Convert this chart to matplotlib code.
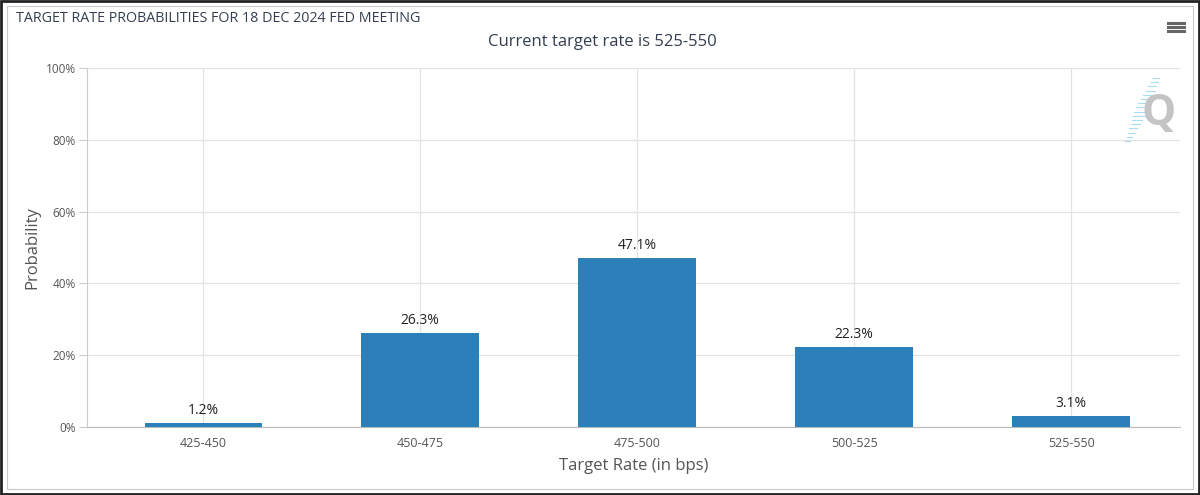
import matplotlib.pyplot as plt
from matplotlib.patches import Rectangle
from matplotlib.lines import Line2D

plt.rcParams['font.family'] = ['Open Sans', 'DejaVu Sans']

# data
rates = ['425-450', '450-475', '475-500', '500-525', '525-550']
probs = [1.2, 26.3, 47.1, 22.3, 3.1]
yticks = [0, 20, 40, 60, 80, 100]

bar_color = '#2b80b9'
text_color = '#333f50'

W, H = 1200, 495
fig = plt.figure(figsize=(12, 4.95), dpi=100)
ax = fig.add_axes([87 / W, 1 - 427 / H, 1093 / W, 359 / H])

x = list(range(len(rates)))
ax.bar(x, probs, width=0.54, color=bar_color, zorder=3)
for xi, p in zip(x, probs):
    ax.text(xi, p + 1.3, f'{p}%', ha='center', va='bottom', fontsize=10, color='#222222', zorder=4)

ax.set_xlim(-0.535, len(rates) - 0.498)
ax.set_ylim(0, 100)
ax.set_xticks(x)
ax.set_xticklabels(rates, fontsize=9, color='#555555')
ax.set_yticks(yticks)
ax.set_yticklabels([f'{t}%' for t in yticks], fontsize=8.5, color='#555555')
ax.tick_params(axis='x', length=0, pad=7)
ax.tick_params(axis='y', length=6, width=0.8, color='#cccccc', pad=2)

ax.grid(True, color='#e3e3e3', linewidth=0.9, zorder=0)
for side in ['top', 'right']:
    ax.spines[side].set_visible(False)
ax.spines['left'].set_color('#cccccc')
ax.spines['bottom'].set_color('#bbbbbb')

ax.set_xlabel('Target Rate (in bps)', fontsize=12, color='#555555', labelpad=6)
ax.set_ylabel('Probability', fontsize=12, color='#555555', labelpad=4)

fig.text(0.013, 0.962, 'TARGET RATE PROBABILITIES FOR 18 DEC 2024 FED MEETING',
         fontsize=10.3, color=text_color, ha='left', va='center')
fig.text(0.502, 0.915, 'Current target rate is 525-550',
         fontsize=12, color=text_color, ha='center', va='center')

# menu icon
for yy in [0.937, 0.945, 0.953]:
    fig.add_artist(Line2D([0.9735, 0.9865], [yy, yy], color='#666666', linewidth=2.2))

# logo
for i in range(16):
    yy = 78 + i * 4.2
    xc = 1156 - i * 1.9
    half = 7 - abs(i - 7) * 0.6
    fig.add_artist(Line2D([(xc - half) / W, (xc + half) / W], [1 - yy / H, 1 - yy / H],
                          color='#a8dcf2', linewidth=0.8))
fig.text(1159 / W, 1 - 113 / H, 'Q', fontsize=31, fontweight='bold', color='#c4c4c4',
         ha='center', va='center')

# frame
fig.add_artist(Rectangle((0.001, 0.002), 0.998, 0.996, transform=fig.transFigure,
                         fill=False, edgecolor='#222222', linewidth=2))
fig.add_artist(Rectangle((0.006, 0.012), 0.988, 0.976, transform=fig.transFigure,
                         fill=False, edgecolor='#c8c8c8', linewidth=0.8))

fig.savefig('out.png', dpi=100)
